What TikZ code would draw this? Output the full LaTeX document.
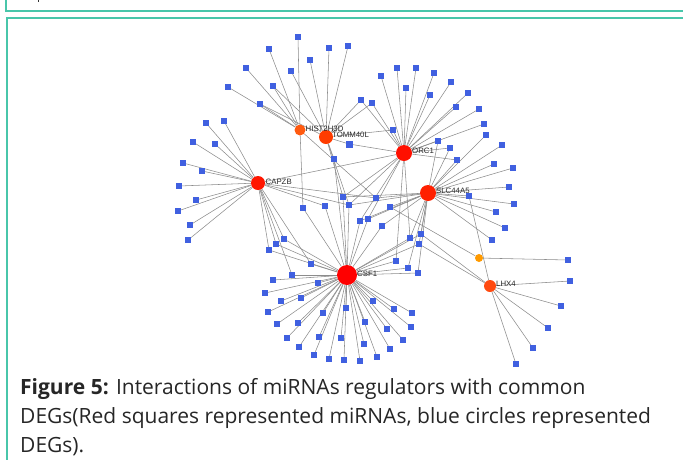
\documentclass[tikz,border=0pt]{standalone}
\usepackage{fontspec}
\setmainfont{Liberation Sans}
\newfontfamily\capfont{Open Sans}
\pgfdeclarelayer{bg}
\pgfsetlayers{bg,main}
\definecolor{tealb}{RGB}{72,198,170}
\definecolor{bluen}{RGB}{64,96,224}
\definecolor{edgec}{RGB}{140,140,140}
\tikzset{
  hub/.style={circle, inner sep=0pt, draw=none},
  gene/.style={rectangle, inner sep=0pt, minimum size=5.8pt, fill=bluen, draw=none},
  lab/.style={anchor=west, inner sep=0pt, font=\fontsize{7.8pt}{8pt}\selectfont, text=black!85},
  edge/.style={draw=edgec, line width=0.55pt},
  capline/.style={anchor=base west, inner sep=0pt, font=\capfont\fontsize{21pt}{25pt}\selectfont, text=black!85},
}
\begin{document}
\begin{tikzpicture}[x=1pt,y=-1pt]
\useasboundingbox (0,0) rectangle (683,459);
% frames
\draw[tealb, line width=2pt] (6,-2) -- (6,11) -- (690,11);
\draw[tealb, line width=2pt] (7,470) -- (7,17.5) -- (690,17.5);
\fill[black!80] (37.5,0) rectangle (39,2);
% hubs
\node[hub, fill={rgb,255:red,255;green,0;blue,0}, minimum size=20pt] (CSF1) at (347,275) {};
\node[hub, fill={rgb,255:red,255;green,16;blue,0}, minimum size=16pt] (ORC1) at (404,153) {};
\node[hub, fill={rgb,255:red,255;green,32;blue,0}, minimum size=16pt] (SLC) at (428,193) {};
\node[hub, fill={rgb,255:red,255;green,22;blue,0}, minimum size=14pt] (CAPZB) at (258,183) {};
\node[hub, fill={rgb,255:red,255;green,60;blue,0}, minimum size=14pt] (TOMM) at (326,137) {};
\node[hub, fill={rgb,255:red,255;green,90;blue,16}, minimum size=11pt] (HIST) at (300,130) {};
\node[hub, fill={rgb,255:red,255;green,74;blue,16}, minimum size=12pt] (LHX4) at (490,286) {};
\node[hub, fill={rgb,255:red,255;green,154;blue,0}, minimum size=8pt] (ORG) at (479,258) {};
% labels
\node[lab] (lCSF1) at (357,273.5) {CSF1};
\node[lab] (lORC1) at (412,151) {ORC1};
\node[lab] (lSLC) at (436,190.5) {SLC44A5};
\node[lab] (lCAPZB) at (265.5,182) {CAPZB};
\node[lab] (lTOMM) at (332,135) {TOMM40L};
\node[lab] (lHIST) at (305.5,129) {HIST2H3D};
\node[lab] (lLHX4) at (496,283.5) {LHX4};
% genes
\foreach \n/\x/\y in {
 u1/298/37, u2/269/49, u3/329/48, u4/348/46, u5/310/60, u6/246/68, u7/291/71, u8/273/86, u9/228/87, u10/260/104,
 c1/206/123, c2/224/121, c3/193/142, c4/215/144, c5/183/163, c6/202/171, c7/179/186, c8/196/200, c9/178/211, c10/190/225, c11/188/240,
 s1/284/239, s2/276/244, s3/269/250,
 m1/349/144, m2/334/159, m3/303/208, m4/325/206, m5/343/197, m6/349/205, m7/376/198, m8/390/207, m9/360/221, m10/368/219,
 m11/382/226, m12/410/238, m13/421/234, m14/419/244, m15/396/261, m16/408/268, m17/418/273,
 o1/381/76, o2/397/68, o3/416/68, o4/434/73, o5/451/82, o6/468/93, o7/479/109, o8/484/124, o9/406/88, o10/430/95, o11/456/107,
 o12/361/100, o13/372/103, o14/393/130, os1/438/141, os2/450/148, os3/457/160,
 r1/486/135, r2/502/145, r3/494/164, r4/513/168, r5/509/187, r6/469/196, r7/514/204, r8/496/212, r9/505/228, r10/492/240,
 l1/568/260, l2/570/281, l3/561/306, l4/548/328, l5/533/348, l6/516/364,
 d1/311/264, d2/292/275, d3/273/280, d4/318/283, d5/265/293, d6/281/301, d7/301/298, d8/268/312, d9/323/313, d10/346/308,
 d11/373/301, d12/394/309, d13/412/313, d14/277/324, d15/298/323, d16/287/338, d17/319/337, d18/341/338, d19/365/322, d20/387/329,
 d21/411/327, d22/403/340, d23/299/347, d24/314/355, d25/329/359, d26/344/360, d27/360/361, d28/377/357, d29/364/344, d30/390/349}
 \node[gene] (\n) at (\x,\y) {};
\node[gene, minimum size=7pt] at (m1) {};
% edges
\begin{pgfonlayer}{bg}
\foreach \g in {u1,u2,u6,u8,u9,u10,m3,m7}
  \draw[edge] (HIST) -- (\g);
\foreach \g in {u3,u4,u5,u7,u8,u10,m1,m2,m5,m6,o12,o13,o14}
  \draw[edge] (TOMM) -- (\g);
\foreach \g in {o1,o2,o3,o4,o5,o6,o7,o8,o9,o10,o11,o12,o13,o14,os1,os2,os3,m1,m5,m6,m9,m10,m12,m15,CAPZB}
  \draw[edge] (ORC1) -- (\g);
\foreach \g in {os1,os2,os3,r1,r2,r3,r4,r5,r6,r7,r8,r9,r10,m5,m6,m7,m8,m9,m10,m11,m12,m13,m14,m16,m17}
  \draw[edge] (SLC) -- (\g);
\foreach \g in {d1,d2,d3,d4,d5,d6,d7,d8,d9,d10,d11,d12,d13,d14,d15,d16,d17,d18,d19,d20,d21,d22,d23,d24,d25,d26,d27,d28,d29,d30,
  s1,s2,s3,m2,m3,m4,m5,m6,m9,m10,m11,m12,m13,m14,m15,m16,m17}
  \draw[edge] (CSF1) -- (\g);
\foreach \g in {c1,c2,c3,c4,c5,c6,c7,c8,c9,c10,c11,s1,s2,s3,d1,d2,m4,m6,m7}
  \draw[edge] (CAPZB) -- (\g);
\foreach \g in {l2,l3,l4,l5,l6,r6,m13,m14}
  \draw[edge] (LHX4) -- (\g);
\foreach \g in {l1,m8}
  \draw[edge] (ORG) -- (\g);
\end{pgfonlayer}
% caption
\node[capline] (cap1) at (20,394) {\textbf{Figure 5:} Interactions of miRNAs regulators with common};
\node[capline] (cap2) at (20,423) {DEGs(Red squares represented miRNAs, blue circles represented};
\node[capline] (cap3) at (20,452) {DEGs).};
\end{tikzpicture}
\end{document}
